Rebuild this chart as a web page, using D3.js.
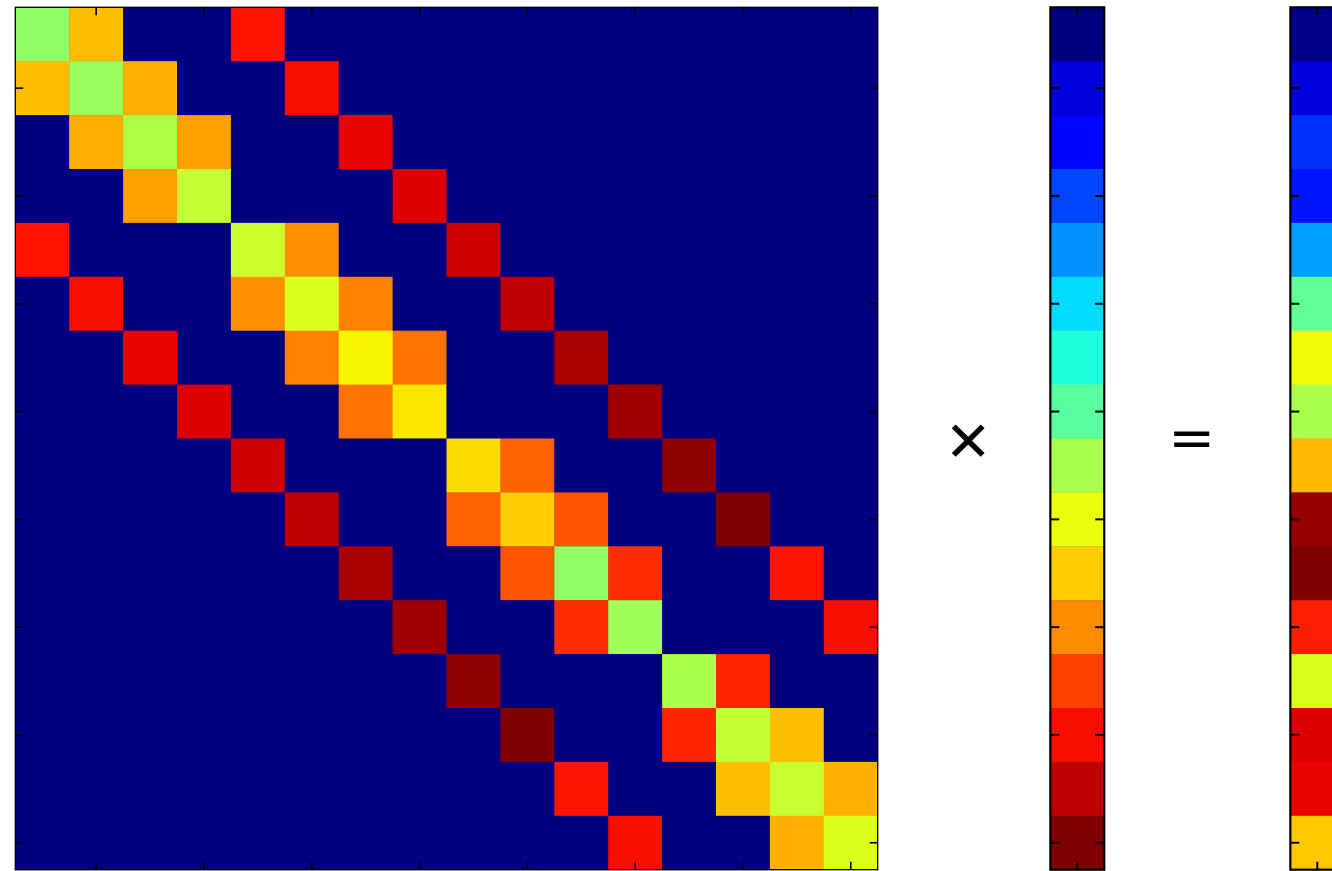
<!DOCTYPE html>
<html>
<head>
<meta charset="utf-8">
<script src="https://cdn.jsdelivr.net/npm/d3@7"></script>
<style>
  html, body { margin: 0; padding: 0; background: #fff; }
  svg { display: block; }
</style>
</head>
<body>
<svg id="chart" width="1332" height="871"></svg>
<script>
// colormap positions (0 = bottom of jet, 1 = top)
const size = 16;
const mainDiag = [0.525, 0.535, 0.563, 0.587, 0.598, 0.617, 0.65, 0.664,
                  0.677, 0.693, 0.527, 0.544, 0.557, 0.587, 0.593, 0.617];
// (i, i+1) inside the 4x4 blocks, 0 across block borders
const nearDiag = [0.709, 0.725, 0.741, 0, 0.756, 0.772, 0.788, 0,
                  0.804, 0.82, 0.862, 0, 0.873, 0.709, 0.725];
// (i, i+4)
const farDiag = [0.89, 0.896, 0.907, 0.92, 0.934, 0.946, 0.963, 0.974,
                 0.987, 1.0, 0.889, 0.896];
const vecX = [0, 0.079, 0.13, 0.194, 0.267, 0.34, 0.385, 0.459,
              0.557, 0.636, 0.693, 0.762, 0.841, 0.896, 0.946, 1.0];
const vecB = [0.01, 0.079, 0.174, 0.145, 0.282, 0.469, 0.642, 0.557,
              0.714, 0.98, 1.0, 0.878, 0.617, 0.92, 0.907, 0.698];
const tickIdx = [1, 3, 5, 7, 9, 11, 13, 15];

// build the symmetric matrix from its bands
const cells = [];
for (let i = 0; i < size; i++) {
  for (let j = 0; j < size; j++) {
    let v = 0;
    if (i == j) v = mainDiag[i];
    else if (Math.abs(i - j) == 1) v = nearDiag[Math.min(i, j)];
    else if (Math.abs(i - j) == 4) v = farDiag[Math.min(i, j)];
    cells.push({ r: i, c: j, v: v });
  }
}

// matplotlib "jet"
const jetR = d3.scaleLinear().domain([0, 0.35, 0.66, 0.89, 1]).range([0, 0, 1, 1, 0.5]).clamp(true);
const jetG = d3.scaleLinear().domain([0, 0.125, 0.375, 0.64, 0.91, 1]).range([0, 0, 1, 1, 0, 0]).clamp(true);
const jetB = d3.scaleLinear().domain([0, 0.11, 0.34, 0.65, 1]).range([0.5, 1, 1, 0, 0]).clamp(true);
const jet = v => d3.rgb(jetR(v) * 255, jetG(v) * 255, jetB(v) * 255).formatHex();

const svg = d3.select("#chart");
const cell = 53.9;
const topY = 7.3;
const idx = d3.range(size);

const y = d3.scaleBand().domain(idx).range([topY, topY + size * cell]);
const [my0, my1] = y.range();

function addTicks(g, scale, axisFn, len, width) {
  g.call(axisFn(scale).tickValues(tickIdx.filter(t => scale.domain().includes(t)))
      .tickSizeInner(-len).tickSizeOuter(0).tickFormat(""));
  g.select(".domain").remove();
  g.selectAll(".tick line").attr("stroke", "#000").attr("stroke-width", width);
}

// ---- matrix
const mx = d3.scaleBand().domain(idx).range([15.3, 15.3 + size * cell]);
const [mx0, mx1] = mx.range();
const mat = svg.append("g");
// underlay in the zero colour so no seams show between cells
mat.append("rect")
  .attr("x", mx0).attr("y", my0)
  .attr("width", mx1 - mx0).attr("height", my1 - my0)
  .attr("fill", jet(0));
mat.selectAll("rect.cell")
  .data(cells)
  .join("rect")
  .attr("class", "cell")
  .attr("x", d => mx(d.c))
  .attr("y", d => y(d.r))
  .attr("width", mx.bandwidth() + 0.4)
  .attr("height", y.bandwidth() + 0.4)
  .attr("fill", d => jet(d.v));

mat.append("rect")
  .attr("x", mx0).attr("y", my0)
  .attr("width", mx1 - mx0).attr("height", my1 - my0)
  .attr("fill", "none").attr("stroke", "#000").attr("stroke-width", 1.3);

addTicks(mat.append("g").attr("transform", `translate(0,${my0})`), mx, d3.axisTop, 8, 1.6);
addTicks(mat.append("g").attr("transform", `translate(0,${my1})`), mx, d3.axisBottom, 8, 1.6);
addTicks(mat.append("g").attr("transform", `translate(${mx0},0)`), y, d3.axisLeft, 8, 1.6);
addTicks(mat.append("g").attr("transform", `translate(${mx1},0)`), y, d3.axisRight, 8, 1.6);

// ---- vectors
function drawVector(values, left) {
  const vx = d3.scaleBand().domain([0]).range([left, left + cell]);
  const g = svg.append("g");
  g.append("rect")
    .attr("x", left).attr("y", my0)
    .attr("width", cell).attr("height", my1 - my0)
    .attr("fill", jet(values[0]));
  g.selectAll("rect.cell")
    .data(values)
    .join("rect")
    .attr("class", "cell")
    .attr("x", vx(0))
    .attr("y", (d, i) => y(i))
    .attr("width", vx.bandwidth())
    .attr("height", y.bandwidth() + 0.4)
    .attr("fill", d => jet(d));
  g.append("rect")
    .attr("x", left).attr("y", my0)
    .attr("width", cell).attr("height", my1 - my0)
    .attr("fill", "none").attr("stroke", "#000").attr("stroke-width", 2.2);
  const centre = vx(0) + vx.bandwidth() / 2;
  [[my0, -1], [my1, 1]].forEach(([yy, dir]) => {
    g.append("line")
      .attr("x1", centre).attr("x2", centre)
      .attr("y1", yy).attr("y2", yy - dir * 8)
      .attr("stroke", "#000").attr("stroke-width", 2);
  });
  addTicks(g.append("g").attr("transform", `translate(${left},0)`), y, d3.axisLeft, 9, 2);
  addTicks(g.append("g").attr("transform", `translate(${left + cell},0)`), y, d3.axisRight, 9, 2);
}

drawVector(vecX, 1050.35);
drawVector(vecB, 1290.35);

// ---- operators
svg.append("text")
  .attr("x", 968.3).attr("y", 458)
  .attr("text-anchor", "middle")
  .attr("font-family", "DejaVu Sans")
  .attr("font-size", 56)
  .attr("stroke", "#000").attr("stroke-width", 0.8)
  .text("×");
svg.append("text")
  .attr("x", 1191.7).attr("y", 457)
  .attr("text-anchor", "middle")
  .attr("font-family", "DejaVu Sans")
  .attr("font-size", 56)
  .text("=");
</script>
</body>
</html>
